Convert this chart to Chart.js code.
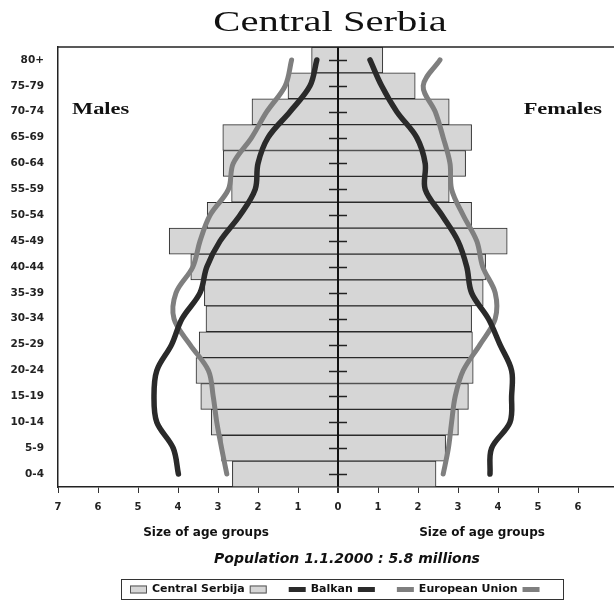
<!DOCTYPE html>
<html>
<head>
<meta charset="utf-8">
<script src="https://cdn.jsdelivr.net/npm/chart.js@4.4.1/dist/chart.umd.min.js"></script>
<style>
html,body{margin:0;padding:0;background:#fff;overflow:hidden;width:614px;height:602px;}
#wrap{position:relative;width:640px;height:602px;}
canvas{display:block;}
</style>
</head>
<body>
<div id="wrap"><canvas id="c" width="640" height="602" style="width:640px;height:602px"></canvas></div>
<script>
// Age groups, top to bottom
const ageGroups = ['80+','75-79','70-74','65-69','60-64','55-59','50-54','45-49','40-44','35-39','30-34','25-29','20-24','15-19','10-14','5-9','0-4'];
// Central Serbia
const maleSerbia   = [0.66,1.25,2.15,2.88,2.87,2.66,3.27,4.22,3.68,3.34,3.30,3.47,3.55,3.43,3.17,2.91,2.64];
const femaleSerbia = [1.12,1.93,2.78,3.34,3.19,2.78,3.34,4.23,3.69,3.63,3.34,3.36,3.38,3.26,3.01,2.69,2.45];
// Balkan
const maleBalkan   = [0.53,0.70,1.20,1.75,2.00,2.07,2.45,2.95,3.28,3.45,3.90,4.16,4.53,4.60,4.53,4.12,3.99];
const femaleBalkan = [0.80,1.09,1.47,1.97,2.18,2.18,2.60,3.00,3.22,3.34,3.76,4.05,4.34,4.34,4.30,3.84,3.80];
// European Union
const maleEU       = [1.16,1.32,1.78,2.16,2.62,2.74,3.20,3.45,3.63,4.05,4.10,3.70,3.24,3.12,3.03,2.91,2.78];
const femaleEU     = [2.55,2.13,2.43,2.63,2.80,2.84,3.13,3.47,3.62,3.93,3.93,3.55,3.13,2.93,2.84,2.76,2.63];
// Axis ticks
const xTickValues = [-7,-6,-5,-4,-3,-2,-1,0,1,2,3,4,5,6,7];

const neg = a => a.map(v => -v);
const BAR_FILL = '#d6d6d6', BAR_EDGE = '#2a2a2a';
const BALKAN = '#2a2a2a', EU = '#7f7f7f';
const SANS = '"DejaVu Sans", sans-serif';
const SERIF = '"Liberation Serif", "DejaVu Serif", serif';

const extras = {
  id: 'extras',
  afterDraw(chart) {
    const ctx = chart.ctx, a = chart.chartArea;
    const xs = chart.scales.x, ys = chart.scales.y;
    const x0 = xs.getPixelForValue(0);
    ctx.save();
    // top border of plot
    ctx.strokeStyle = '#222'; ctx.lineWidth = 1.5;
    ctx.beginPath(); ctx.moveTo(a.left, a.top); ctx.lineTo(a.right, a.top); ctx.stroke();
    // center ticks
    ctx.lineWidth = 1.5;
    for (let i = 0; i < ageGroups.length; i++) {
      const y = Math.round(ys.getPixelForValue(i)) + 0.5;
      ctx.beginPath(); ctx.moveTo(x0 - 9, y); ctx.lineTo(x0 + 9, y); ctx.stroke();
    }
    // stretched serif texts
    const stretched = (txt, x, y, size, weight, align) => {
      ctx.save();
      ctx.translate(x, y); ctx.scale(1.4, 1);
      ctx.font = weight + ' ' + size + 'px ' + SERIF;
      ctx.fillStyle = '#111'; ctx.textAlign = align; ctx.textBaseline = 'alphabetic';
      ctx.fillText(txt, 0, 0);
      ctx.restore();
    };
    stretched('Central Serbia', 330, 31, 29, 'normal', 'center');
    stretched('Males', 72, 114, 16, 'bold', 'left');
    stretched('Females', 602, 114, 16, 'bold', 'right');
    // axis titles
    ctx.fillStyle = '#111'; ctx.textBaseline = 'middle'; ctx.textAlign = 'center';
    ctx.font = 'bold 12px ' + SANS;
    ctx.fillText('Size of age groups', 206, 533);
    ctx.fillText('Size of age groups', 482, 533);
    ctx.font = 'italic bold 14px ' + SANS;
    ctx.fillText('Population 1.1.2000 : 5.8 millions', 347, 559);
    // legend
    const bx = 121, by = 579, bw = 442, bh = 20;
    ctx.strokeStyle = '#333'; ctx.lineWidth = 1;
    ctx.strokeRect(bx + 0.5, by + 0.5, bw, bh);
    ctx.font = 'bold 11px ' + SANS; ctx.textAlign = 'left';
    const cy = by + bh / 2 + 0.5;
    const items = [
      {label: 'Central Serbija', kind: 'bar'},
      {label: 'Balkan', kind: 'dark'},
      {label: 'European Union', kind: 'gray'}
    ];
    const sw = 17;
    const drawSw = (kind, x) => {
      if (kind === 'bar') {
        ctx.fillStyle = BAR_FILL; ctx.fillRect(x, cy - 4, sw, 8);
        ctx.strokeStyle = '#555'; ctx.lineWidth = 1; ctx.strokeRect(x + 0.5, cy - 4 + 0.5, sw - 1, 7);
      } else {
        ctx.fillStyle = kind === 'dark' ? BALKAN : EU;
        ctx.fillRect(x, cy - 2.5, sw, 5);
      }
    };
    let x = 130;
    items.forEach(it => {
      drawSw(it.kind, x); x += sw + 5;
      ctx.fillStyle = '#111'; ctx.fillText(it.label, x, cy);
      x += ctx.measureText(it.label).width + 5;
      drawSw(it.kind, x); x += sw + 22;
    });
    ctx.restore();
  }
};

new Chart(document.getElementById('c'), {
  type: 'bar',
  data: {
    labels: ageGroups,
    datasets: [
      {type:'line', label:'Balkan', indexAxis:'y', data: neg(maleBalkan), borderColor: BALKAN, borderWidth: 5.5, pointRadius: 0, tension: 0.35, fill: false, order: 0, borderCapStyle:'round', borderJoinStyle:'round'},
      {type:'line', label:'Balkan', indexAxis:'y', data: femaleBalkan, borderColor: BALKAN, borderWidth: 5.5, pointRadius: 0, tension: 0.35, fill: false, order: 0, borderCapStyle:'round', borderJoinStyle:'round'},
      {type:'line', label:'European Union', indexAxis:'y', data: neg(maleEU), borderColor: EU, borderWidth: 5, pointRadius: 0, tension: 0.35, fill: false, order: 1, borderCapStyle:'round', borderJoinStyle:'round'},
      {type:'line', label:'European Union', indexAxis:'y', data: femaleEU, borderColor: EU, borderWidth: 5, pointRadius: 0, tension: 0.35, fill: false, order: 1, borderCapStyle:'round', borderJoinStyle:'round'},
      {type:'bar', label:'Central Serbija', data: neg(maleSerbia), backgroundColor: BAR_FILL, borderColor: BAR_EDGE, borderWidth: 1, barPercentage: 1, categoryPercentage: 1, grouped: false, order: 2},
      {type:'bar', label:'Central Serbija', data: femaleSerbia, backgroundColor: BAR_FILL, borderColor: BAR_EDGE, borderWidth: 1, barPercentage: 1, categoryPercentage: 1, grouped: false, order: 2}
    ]
  },
  options: {
    indexAxis: 'y',
    responsive: false,
    animation: false,
    devicePixelRatio: 1,
    layout: {padding: {left: 0, top: 47, right: 22, bottom: 85}},
    plugins: {legend: {display: false}, title: {display: false}, tooltip: {enabled: false}},
    scales: {
      x: {
        type: 'linear', min: -7, max: 7, z: 1,
        afterBuildTicks: s => { s.ticks = xTickValues.map(v => ({value: v})); },
        ticks: {callback: v => Math.abs(v), font: {family: SANS, weight: 'bold', size: 10}, color: '#222', padding: 8, maxRotation: 0, autoSkip: false},
        grid: {
          color: c => (c.tick && c.tick.value === 0) ? '#111' : 'rgba(0,0,0,0)',
          lineWidth: c => (c.tick && c.tick.value === 0) ? 2 : 1,
          tickColor: '#333', tickLength: 6, drawTicks: true
        },
        border: {display: true, color: '#222', width: 1.5},
        afterFit: s => { s.height = 30; }
      },
      y: {
        type: 'category',
        ticks: {font: {family: SANS, weight: 'bold', size: 10.5}, color: '#222', padding: 14},
        grid: {display: false, drawTicks: false},
        border: {display: true, color: '#222', width: 1.5},
        afterFit: s => { s.width = 58; }
      }
    }
  },
  plugins: [extras]
});
</script>
</body>
</html>
